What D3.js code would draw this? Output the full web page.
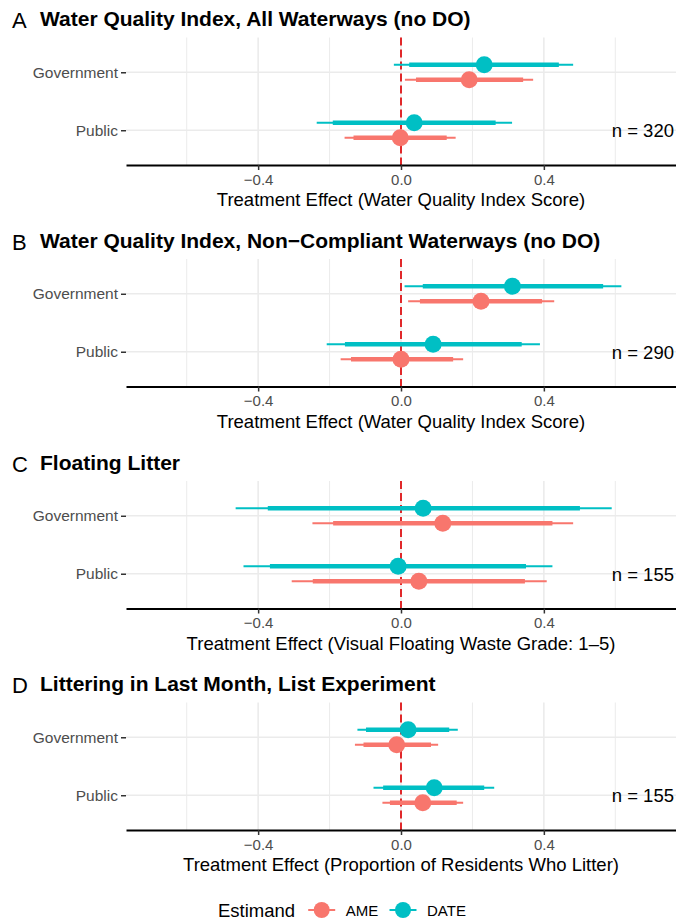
<!DOCTYPE html>
<html>
<head>
<meta charset="utf-8">
<script src="https://cdn.jsdelivr.net/npm/d3@7"></script>
<style>
  body { margin: 0; background: #fff; }
  svg { display: block; font-family: "Liberation Sans", Arial, Helvetica, sans-serif; }
</style>
</head>
<body>
<svg id="chart" width="676" height="922"></svg>
<script>
// data
const categories = ["Government", "Public"];
const estimands = ["AME", "DATE"];
const panelLetters = ["A", "B", "C", "D"];
const panelTitles = [
  "Water Quality Index, All Waterways (no DO)",
  "Water Quality Index, Non\u2212Compliant Waterways (no DO)",
  "Floating Litter",
  "Littering in Last Month, List Experiment"
];
const xTitles = [
  "Treatment Effect (Water Quality Index Score)",
  "Treatment Effect (Water Quality Index Score)",
  "Treatment Effect (Visual Floating Waste Grade: 1\u20135)",
  "Treatment Effect (Proportion of Residents Who Litter)"
];
const nLabels = ["n = 320", "n = 290", "n = 155", "n = 155"];
const xTicks = [-0.4, 0, 0.4];

// per panel: [Government, Public]
const ameEst  = [[0.191, -0.002], [0.224, 0.000], [0.117, 0.050], [-0.012, 0.061]];
const ameLo95 = [[0.011, -0.158], [0.020, -0.169], [-0.248, -0.306], [-0.129, -0.052]];
const ameHi95 = [[0.370, 0.153], [0.429, 0.174], [0.482, 0.408], [0.104, 0.174]];
const ameLo90 = [[0.042, -0.133], [0.053, -0.140], [-0.190, -0.247], [-0.105, -0.031]];
const ameHi90 = [[0.342, 0.128], [0.395, 0.146], [0.424, 0.347], [0.084, 0.156]];

const dateEst  = [[0.233, 0.037], [0.312, 0.090], [0.062, -0.008], [0.020, 0.093]];
const dateLo95 = [[-0.020, -0.236], [0.010, -0.208], [-0.463, -0.441], [-0.122, -0.077]];
const dateHi95 = [[0.482, 0.311], [0.617, 0.389], [0.590, 0.424], [0.159, 0.261]];
const dateLo90 = [[0.023, -0.191], [0.061, -0.157], [-0.373, -0.367], [-0.098, -0.050]];
const dateHi90 = [[0.442, 0.265], [0.566, 0.338], [0.501, 0.350], [0.135, 0.233]];

const colors = { AME: "#F8766D", DATE: "#00BFC4" };
const dodge = { AME: 7.5, DATE: -7.5 };

const svg = d3.select("#chart");
const panelY = [0, 221.5, 443.5, 665];

const x = d3.scaleLinear().domain([-0.77, 0.77]).range([126, 676]);
const y = d3.scalePoint().domain(categories).range([37.5, 165]).padding(0.6);

function rows(p) {
  const out = [];
  estimands.forEach(e => {
    categories.forEach((c, i) => {
      const src = e == "AME"
        ? [ameEst, ameLo95, ameHi95, ameLo90, ameHi90]
        : [dateEst, dateLo95, dateHi95, dateLo90, dateHi90];
      out.push({
        est: e, cat: c,
        v: src[0][p][i], lo95: src[1][p][i], hi95: src[2][p][i],
        lo90: src[3][p][i], hi90: src[4][p][i]
      });
    });
  });
  return out;
}

panelLetters.forEach((letter, p) => {
  const g = svg.append("g").attr("transform", `translate(0,${panelY[p]})`);

  g.append("text").attr("x", 12).attr("y", 28)
    .attr("font-size", 22).attr("fill", "#000").text(letter);
  g.append("text").attr("x", 40).attr("y", 26)
    .attr("font-size", 21).attr("font-weight", "bold").attr("fill", "#000")
    .text(panelTitles[p]);

  // grid
  const minor = [-0.6, -0.2, 0.2, 0.6];
  g.selectAll(".minor").data(minor).join("line")
    .attr("x1", d => x(d)).attr("x2", d => x(d))
    .attr("y1", 37.5).attr("y2", 165)
    .attr("stroke", "#ebebeb").attr("stroke-width", 1);
  g.selectAll(".major").data(xTicks).join("line")
    .attr("x1", d => x(d)).attr("x2", d => x(d))
    .attr("y1", 37.5).attr("y2", 165)
    .attr("stroke", "#ebebeb").attr("stroke-width", 1.6);
  g.selectAll(".hgrid").data(categories).join("line")
    .attr("x1", 126).attr("x2", 676)
    .attr("y1", d => y(d)).attr("y2", d => y(d))
    .attr("stroke", "#ebebeb").attr("stroke-width", 1.6);

  // zero line
  g.append("line")
    .attr("x1", x(0)).attr("x2", x(0)).attr("y1", 37.5).attr("y2", 165)
    .attr("stroke", "#e0282a").attr("stroke-width", 2)
    .attr("stroke-dasharray", "8,4");

  const data = rows(p);
  const yy = d => y(d.cat) + dodge[d.est];

  g.selectAll(".thin").data(data).join("line")
    .attr("x1", d => x(d.lo95)).attr("x2", d => x(d.hi95))
    .attr("y1", yy).attr("y2", yy)
    .attr("stroke", d => colors[d.est]).attr("stroke-width", 2);
  g.selectAll(".thick").data(data).join("line")
    .attr("x1", d => x(d.lo90)).attr("x2", d => x(d.hi90))
    .attr("y1", yy).attr("y2", yy)
    .attr("stroke", d => colors[d.est]).attr("stroke-width", 4.5);
  g.selectAll(".pt").data(data).join("circle")
    .attr("cx", d => x(d.v)).attr("cy", yy).attr("r", 8.5)
    .attr("fill", d => colors[d.est]);

  // axes
  const xAxis = g.append("g").attr("transform", "translate(0,165)")
    .call(d3.axisBottom(x).tickValues(xTicks).tickSize(5).tickSizeOuter(0)
      .tickPadding(4).tickFormat(d3.format(".1f")));
  xAxis.select(".domain").attr("stroke", "#000").attr("stroke-width", 2);
  xAxis.selectAll(".tick line").attr("stroke", "#333").attr("stroke-width", 1.5);
  xAxis.selectAll(".tick text").attr("font-size", 15).attr("fill", "#4d4d4d")
    .attr("font-family", null);

  const yAxis = g.append("g").attr("transform", "translate(126,0)")
    .call(d3.axisLeft(y).tickSize(5).tickPadding(3));
  yAxis.select(".domain").remove();
  yAxis.selectAll(".tick line").attr("stroke", "#333").attr("stroke-width", 1.5);
  yAxis.selectAll(".tick text").attr("font-size", 15.5).attr("fill", "#4d4d4d")
    .attr("font-family", null);

  g.append("text").attr("x", x(0)).attr("y", 206)
    .attr("text-anchor", "middle").attr("font-size", 18.5).attr("fill", "#000")
    .text(xTitles[p]);

  g.append("text").attr("x", 674).attr("y", y("Public") + 7)
    .attr("text-anchor", "end").attr("font-size", 18.5).attr("fill", "#000")
    .text(nLabels[p]);
});

// legend
const legend = svg.append("g").attr("transform", "translate(0,910)");
legend.append("text").attr("x", 218).attr("y", 6.5)
  .attr("font-size", 18.5).attr("fill", "#000").text("Estimand");
const keyX = [321.7, 403];
estimands.forEach((e, i) => {
  legend.append("line").attr("x1", keyX[i] - 13.5).attr("x2", keyX[i] + 13.5)
    .attr("y1", 0).attr("y2", 0)
    .attr("stroke", colors[e]).attr("stroke-width", 2);
  legend.append("circle").attr("cx", keyX[i]).attr("cy", 0).attr("r", 8)
    .attr("fill", colors[e]);
  legend.append("text").attr("x", keyX[i] + 24).attr("y", 5.5)
    .attr("font-size", 15).attr("fill", "#000").text(e);
});
</script>
</body>
</html>
